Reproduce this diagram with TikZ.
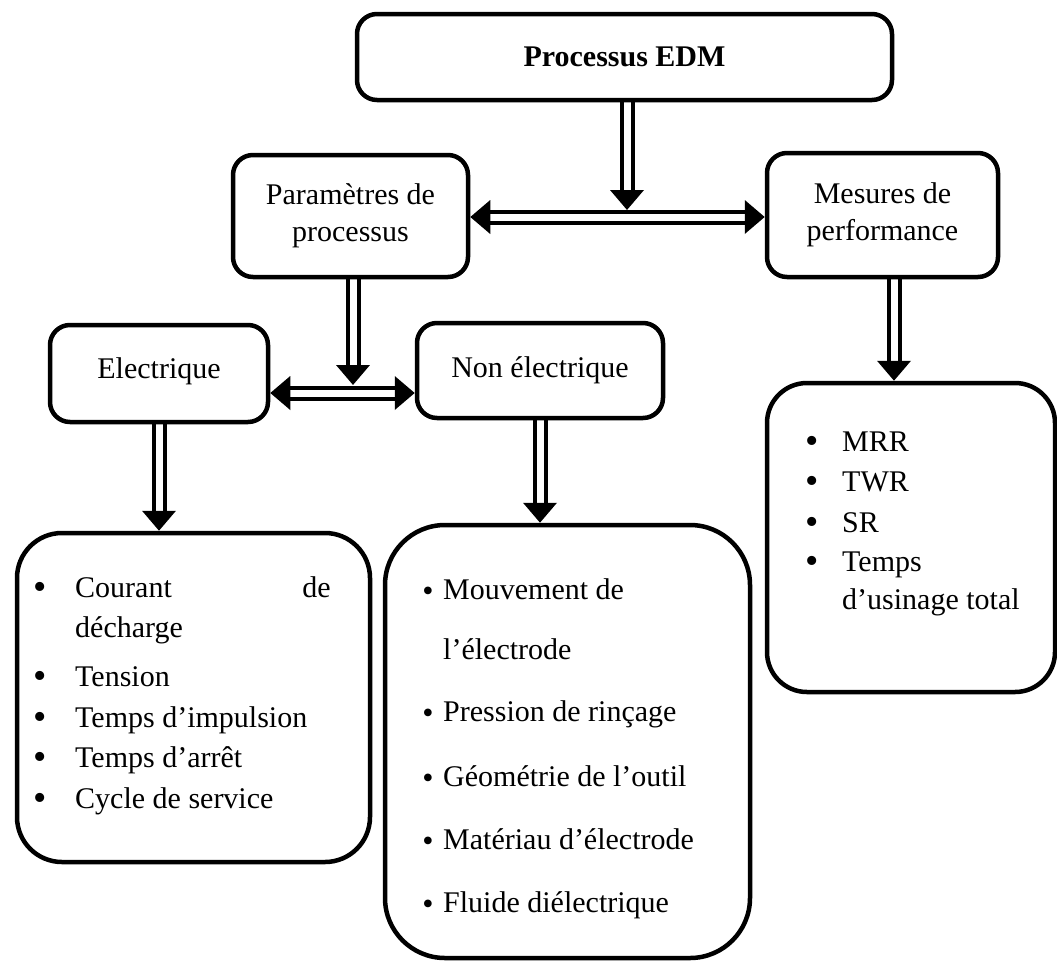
\documentclass[tikz,border=0pt]{standalone}
\usepackage{fontspec}
\setmainfont{Liberation Serif}
\usetikzlibrary{arrows.meta,backgrounds}
\begin{document}
\begin{tikzpicture}[x=1pt,y=-1pt,
  box/.style={draw, line width=4.5pt, rounded corners=20pt, align=center, font=\fontsize{30}{37}\selectfont, inner sep=0pt},
  txt/.style={font=\fontsize{30}{37}\selectfont, inner sep=0pt, anchor=base west},
  bul/.style={font=\fontsize{38}{40}\selectfont, inner sep=0pt, anchor=base, yshift=-2pt},
  dar/.style={draw, line width=4pt, double=white, double distance=7pt, -{Triangle[width=33pt,length=20pt]}},
  dab/.style={draw, line width=4pt, double=white, double distance=7pt, {Triangle[width=33pt,length=20pt]}-{Triangle[width=33pt,length=20pt]}}
]
\useasboundingbox (0,0) rectangle (1057,962);
% boxes
\node[box, minimum width=535pt, minimum height=86pt] (edm) at (624.5,57) {\textbf{Processus EDM}};
\node[box, minimum width=235pt, minimum height=122pt] (param) at (350.5,216) {Paramètres de\\processus};
\node[box, minimum width=231pt, minimum height=124pt] (mes) at (882.5,215) {Mesures de\\performance};
\node[box, minimum width=218pt, minimum height=97pt, text depth=10pt] (elec) at (159,373.5) {Electrique};
\node[box, minimum width=246pt, minimum height=95pt] (nonelec) at (540,370.5) {Non électrique};
\node[box, rounded corners=45pt, minimum width=353pt, minimum height=329pt] (lbox) at (193.5,697.5) {};
\node[box, rounded corners=60pt, minimum width=365pt, minimum height=433pt] (mbox) at (567.5,741.5) {};
\node[box, rounded corners=40pt, minimum width=288pt, minimum height=309pt] (rbox) at (911,537.5) {};
% left list
\node[bul] (lb1) at (40,597) {•};
\node[txt] (lt1) at (75,597) {Courant};
\node[txt, anchor=base east] (lt1b) at (331,597) {de};
\node[txt] (lt2) at (75,637) {décharge};
\node[bul] (lb3) at (40,686) {•};
\node[txt] (lt3) at (75,686) {Tension};
\node[bul] (lb4) at (40,727) {•};
\node[txt] (lt4) at (75,727) {Temps d’impulsion};
\node[bul] (lb5) at (40,767) {•};
\node[txt] (lt5) at (75,767) {Temps d’arrêt};
\node[bul] (lb6) at (40,808) {•};
\node[txt] (lt6) at (75,808) {Cycle de service};
% middle list
\node[bul, font=\fontsize{32}{34}\selectfont] (mb1) at (428,599) {•};
\node[txt] (mt1) at (443,599) {Mouvement de};
\node[txt] (mt2) at (443,659) {l’électrode};
\node[bul, font=\fontsize{32}{34}\selectfont] (mb3) at (428,721) {•};
\node[txt] (mt3) at (443,721) {Pression de rinçage};
\node[bul, font=\fontsize{32}{34}\selectfont] (mb4) at (428,786) {•};
\node[txt] (mt4) at (443,786) {Géométrie de l’outil};
\node[bul, font=\fontsize{32}{34}\selectfont] (mb5) at (428,849) {•};
\node[txt] (mt5) at (443,849) {Matériau d’électrode};
\node[bul, font=\fontsize{32}{34}\selectfont] (mb6) at (428,912) {•};
\node[txt] (mt6) at (443,912) {Fluide diélectrique};
% right list
\node[bul] (rb1) at (812,451) {•};
\node[txt] (rt1) at (842,451) {MRR};
\node[bul] (rb2) at (812,491) {•};
\node[txt] (rt2) at (842,491) {TWR};
\node[bul] (rb3) at (812,532) {•};
\node[txt] (rt3) at (842,532) {SR};
\node[bul] (rb4) at (812,571) {•};
\node[txt] (rt4) at (842,571) {Temps};
\node[txt] (rt5) at (842,609) {d’usinage total};
% connectors
\coordinate (j1) at (627,210);
\coordinate (h1) at (620,217);
\coordinate (j2) at (353,385);
\coordinate (h2) at (353,393);
\coordinate (j4) at (894,383);
\begin{scope}[on background layer]
\draw[dar] (j1 |- edm.south) -- (j1);
\draw[dab] (param.east |- h1) -- (mes.west |- h1);
\draw[dar] (j2 |- param.south) -- (j2);
\draw[dab] (elec.east |- h2) -- (nonelec.west |- h2);
\draw[dar] (elec.south) -- (elec.south |- lbox.north);
\draw[dar] (nonelec.south) -- (nonelec.south |- mbox.north);
\draw[dar] (j4 |- mes.south) -- (j4 |- rbox.north);
\end{scope}
\end{tikzpicture}
\end{document}
